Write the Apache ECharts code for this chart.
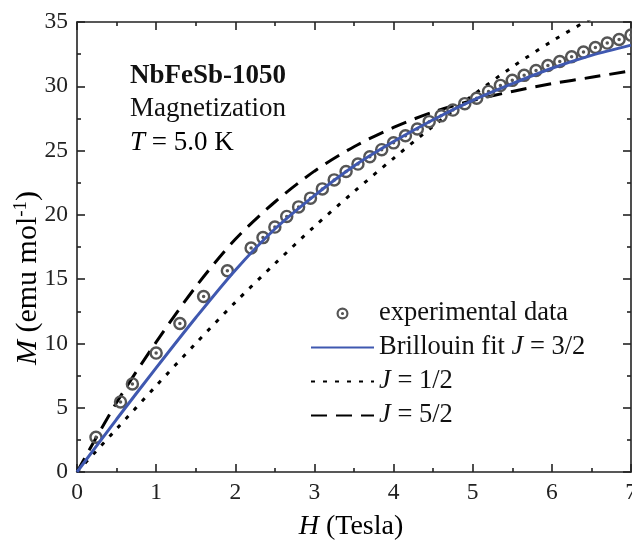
<!DOCTYPE html>
<html>
<head>
<meta charset="utf-8">
<script src="https://cdn.jsdelivr.net/npm/echarts@6/dist/echarts.min.js"></script>
<style>html,body{margin:0;padding:0;background:#fff;}#c{width:632px;height:545px;}</style>
</head>
<body>
<div id="c"></div>
<script>
// Experimental data
const H_exp = [0.24,0.55,0.70,1.00,1.30,1.60,1.90,2.20,2.35,2.50,2.65,2.80,2.95,3.10,3.25,3.40,3.55,3.70,3.85,4.00,4.15,4.30,4.45,4.60,4.75,4.90,5.05,5.20,5.35,5.50,5.65,5.80,5.95,6.10,6.25,6.40,6.55,6.70,6.85,7.00];
const M_exp = [2.7,5.45,6.85,9.25,11.55,13.65,15.65,17.42,18.23,19.05,19.88,20.62,21.30,22.02,22.72,23.37,23.95,24.52,25.07,25.60,26.15,26.68,27.25,27.70,28.15,28.65,29.07,29.60,30.07,30.46,30.85,31.22,31.62,31.92,32.30,32.66,33.02,33.36,33.64,33.98];
// Curves
const H_fit = [0,0.5,1,1.5,2,2.5,3,3.5,4,4.5,5,5.5,6,6.5,7];
const M_J32 = [0,4.1,8.1,12.0,15.7,18.9,21.5,23.8,25.7,27.4,28.9,30.2,31.4,32.4,33.2];
const H_J12 = [0,0.5,1,1.5,2,2.5,3,3.5,4,4.5,5,5.5,6,6.5];
const M_J12 = [0,3.35,6.7,10.0,13.2,16.2,19.1,21.8,24.4,26.9,29.3,31.5,33.5,35.3];
const M_J52 = [0,5.4,10.1,14.4,18.1,21.0,23.4,25.3,26.8,28.0,28.9,29.6,30.2,30.7,31.2];
const xTicks = {min:0, max:7, interval:1};
const yTicks = {min:0, max:35, interval:5};
const names = ['experimental data','Brillouin fit J = 3/2','J = 1/2','J = 5/2'];

const zip = (a,b) => a.map((v,i)=>[v,b[i]]);
const FF = 'Liberation Serif';
const AX = '#222';
const ringPath = 'path://M0,-10A10,10 0 1 1 0,10A10,10 0 1 1 0,-10ZM0,-6.4A6.4,6.4 0 1 0 0,6.4A6.4,6.4 0 1 0 0,-6.4ZM0,-2.6A2.6,2.6 0 1 1 0,2.6A2.6,2.6 0 1 1 0,-2.6Z';

function axisBase(pos, t, showLabel){
  return {
    type:'value', position:pos, min:t.min, max:t.max, interval:t.interval,
    axisLine:{show:true, onZero:false, lineStyle:{color:AX, width:1.6}},
    axisTick:{show:true, inside:true, length:8, lineStyle:{color:AX, width:1.6}},
    minorTick:{show:true, splitNumber:2, length:4, lineStyle:{color:AX, width:1.6}},
    splitLine:{show:false}, minorSplitLine:{show:false},
    axisLabel:{show:showLabel, margin:9, fontFamily:FF, fontSize:23.5, color:'#222'}
  };
}
function rich(size){
  const b = {fontFamily:FF, fontSize:size, color:'#111', lineHeight:size};
  return {r:b, i:Object.assign({}, b, {fontStyle:'italic'})};
}

const chart = echarts.init(document.getElementById('c'), null, {renderer:'canvas'});
const hide = {opacity:0, color:'rgba(0,0,0,0)', borderWidth:0};
const yr = rich(30);
yr.s = {fontFamily:FF, fontSize:19, color:'#111', lineHeight:19, padding:[0,0,13,0]};
chart.setOption({
  animation:false,
  backgroundColor:'#fff',
  grid:{left:77, right:1, top:22, bottom:73, containLabel:false, outerBoundsMode:'none'},
  xAxis:[axisBase('bottom', xTicks, true), axisBase('top', xTicks, false)],
  yAxis:[axisBase('left', yTicks, true), axisBase('right', yTicks, false)],
  legend:{
    orient:'vertical', left:310, top:300, padding:0, itemGap:7,
    itemWidth:63, itemHeight:12,
    data:[
      {name:names[0]},
      {name:names[1], itemStyle:hide},
      {name:names[2], itemStyle:hide},
      {name:names[3], itemStyle:hide}
    ],
    textStyle:{fontFamily:FF, fontSize:26.5, color:'#111', rich:rich(26.5)},
    formatter:function(n){
      const k = n.indexOf('J');
      if(k<0) return '{r|'+n+'}';
      const pre = n.slice(0,k), post = n.slice(k+1);
      return (pre ? '{r|'+pre+'}' : '') + '{i|J}{r|'+post+'}';
    }
  },
  series:[
    {name:names[2], type:'line', data:zip(H_J12,M_J12), smooth:0.3, symbol:'none', z:2,
     lineStyle:{color:'#000', width:3, type:[4,8]}, itemStyle:{color:'#000'}},
    {name:names[3], type:'line', data:zip(H_fit,M_J52), smooth:0.3, symbol:'none', z:2,
     lineStyle:{color:'#000', width:3, type:[16,9]}, itemStyle:{color:'#000'}},
    {name:names[0], type:'scatter', data:zip(H_exp,M_exp), symbol:ringPath, symbolSize:13.5, symbolKeepAspect:true, z:3,
     itemStyle:{color:'#555', opacity:1}},
    {name:names[1], type:'line', data:zip(H_fit,M_J32), smooth:0.3, symbol:'none', z:4,
     lineStyle:{color:'#3F58B0', width:3}, itemStyle:{color:'#3F58B0'}}
  ],
  graphic:[
    {type:'text', x:130, y:76.5, style:{text:'NbFeSb-1050', fontFamily:FF, fontSize:27, fontWeight:'bold', fill:'#111', align:'left', verticalAlign:'middle'}},
    {type:'text', x:130, y:109, style:{text:'Magnetization', fontFamily:FF, fontSize:27, fill:'#111', align:'left', verticalAlign:'middle'}},
    {type:'text', x:130, y:143, style:{text:'{i|T}{r| = 5.0 K}', align:'left', verticalAlign:'middle', rich:rich(27)}},
    {type:'text', x:351, y:527, style:{text:'{i|H}{r| (Tesla)}', align:'center', verticalAlign:'middle', rich:rich(28)}},
    {type:'text', x:28, y:278, rotation:Math.PI/2, style:{text:'{i|M}{r| (emu mol}{s|-1}{r|)}', align:'center', verticalAlign:'middle', rich:yr}}
  ]
});
</script>
</body>
</html>
